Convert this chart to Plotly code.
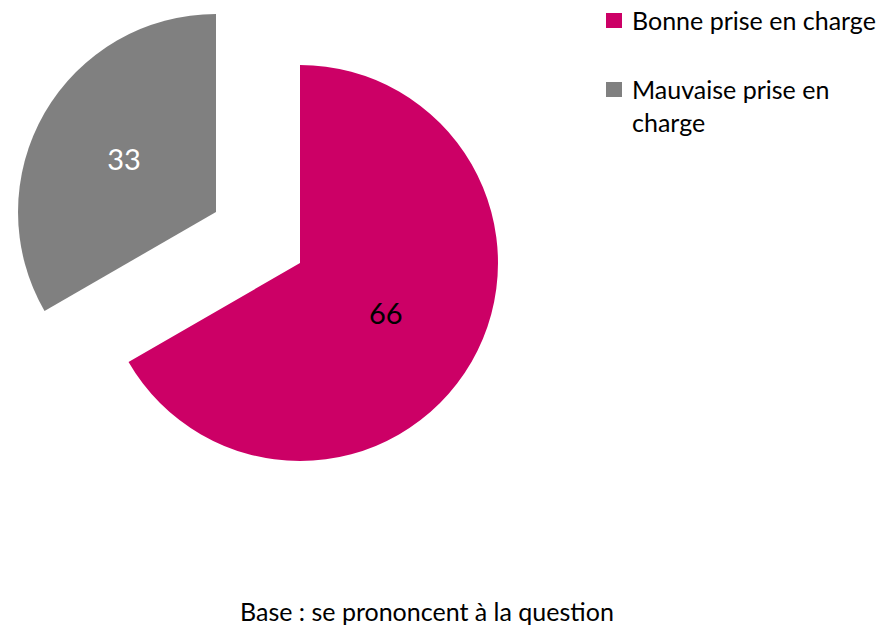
import plotly.graph_objects as go

labels = ["Bonne prise en charge", "Mauvaise prise en charge"]
values = [66, 33]
colors = ["#CC0066", "#808080"]
text_colors = ["#000000", "#FFFFFF"]
legend_text = ["Bonne prise en charge", "Mauvaise prise en<br>charge"]
footer = "Base : se prononcent à la question"

W, H = 886, 628
FONT = "Lato"


def px(x):
    return x / W


def py(y):
    return 1 - y / H


# pie box in pixels (left, top, size); the grey slice is drawn as a shifted copy
box = (102, 65, 396)
shift = (-84, -51)
clear = "rgba(0,0,0,0)"


def pie(visible, dx=0, dy=0):
    l, t, s = box[0] + dx, box[1] + dy, box[2]
    return go.Pie(
        labels=labels, values=values, sort=False, direction="clockwise",
        marker=dict(colors=[c if i == visible else clear for i, c in enumerate(colors)],
                    line=dict(width=0)),
        text=[str(v) if i == visible else "" for i, v in enumerate(values)],
        textinfo="text", textposition="inside", insidetextorientation="horizontal",
        textfont=dict(family=FONT, size=29, color=text_colors),
        domain=dict(x=[px(l), px(l + s)], y=[py(t + s), py(t)]),
        showlegend=False, hoverinfo="label+value",
    )


fig = go.Figure([pie(0), pie(1, *shift)])

ann = [
    dict(x=px(630), y=py(20), text=legend_text[0], xanchor="left", yanchor="middle"),
    dict(x=px(630), y=py(105), text=legend_text[1], xanchor="left", yanchor="middle", align="left"),
    dict(x=px(427), y=py(611), text=footer, xanchor="center", yanchor="middle"),
]
for a in ann:
    a.update(xref="paper", yref="paper", showarrow=False,
             font=dict(family=FONT, size=25, color="#000000"))

shapes = []
for c, top in zip(colors, [13, 82]):
    shapes.append(dict(type="rect", xref="paper", yref="paper",
                       x0=px(606), x1=px(622), y0=py(top), y1=py(top + 15),
                       fillcolor=c, line=dict(width=0)))

fig.update_layout(
    width=W, height=H, margin=dict(l=0, r=0, t=0, b=0),
    paper_bgcolor="white", plot_bgcolor="white",
    annotations=ann, shapes=shapes, showlegend=False,
)

fig.write_html("out.html", config={"displayModeBar": False},
               post_script="document.body.style.margin='0';")
